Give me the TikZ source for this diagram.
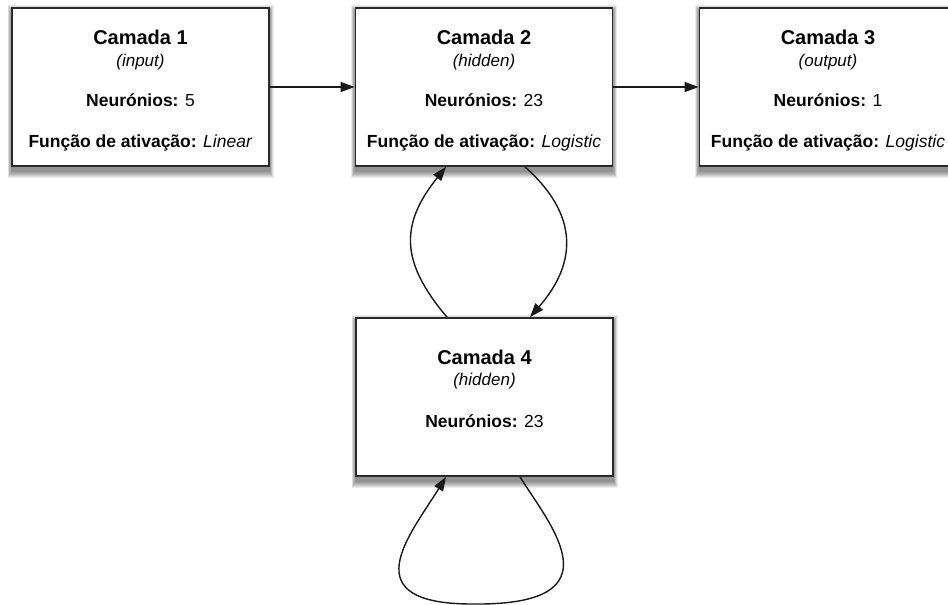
\documentclass[tikz,border=0pt]{standalone}
\usepackage{fontspec}
\setmainfont{Liberation Sans}
\usetikzlibrary{arrows.meta,calc,backgrounds}
\definecolor{ink}{HTML}{050505}
\definecolor{boxline}{HTML}{2A2A2A}
\definecolor{wire}{HTML}{1A1A1A}

\begin{document}
\begin{tikzpicture}[x=1pt,y=-1pt,
  layerbox/.style={draw=boxline, line width=1.8pt, fill=white,
    minimum width=257pt, minimum height=158pt, inner sep=0pt},
  titletext/.style={anchor=base, font=\fontsize{20}{22}\selectfont\bfseries, text=ink},
  subtext/.style={anchor=base, font=\fontsize{17}{19}\selectfont\itshape, text=ink},
  infotext/.style={anchor=base, font=\fontsize{17.5}{20}\selectfont, text=ink},
  link/.style={draw=wire, line width=1.4pt, -{Triangle[length=14pt,width=10pt]}}
]
\clip (0,0) rectangle (948,605);

% layers
\node[layerbox] (c1) at (140.5,87) {};
\node[layerbox] (c2) at (484,87) {};
\node[layerbox] (c3) at (828,87) {};
\node[layerbox] (c4) at (484.5,397) {};

% soft drop shadows under the layer boxes
\begin{scope}[on background layer]
  \fill[white] (0,0) rectangle (948,605);
  \foreach \b in {c1,c2,c3,c4}{
    \foreach \r in {1,...,7}{
      \fill[black, opacity=0.075]
        ($(\b.north west)+(-0.6*\r+0.6, 5-\r)$) rectangle ($(\b.south east)+(0.6*\r-0.6, 4+\r)$);
    }
  }
\end{scope}

% layer 1
\node[titletext] (c1t) at (140.5,44) {Camada 1};
\node[subtext]   (c1s) at (140.5,66.5) {(input)};
\node[infotext]  (c1n) at (140.5,106) {\textbf{Neurónios:} 5};
\node[infotext]  (c1f) at (140.5,147) {\textbf{Função de ativação:} \textit{Linear}};

% layer 2
\node[titletext] (c2t) at (484,44) {Camada 2};
\node[subtext]   (c2s) at (484,66.5) {(hidden)};
\node[infotext]  (c2n) at (484,106) {\textbf{Neurónios:} 23};
\node[infotext]  (c2f) at (484,147) {\textbf{Função de ativação:} \textit{Logistic}};

% layer 3
\node[titletext] (c3t) at (828,44) {Camada 3};
\node[subtext]   (c3s) at (828,66.5) {(output)};
\node[infotext]  (c3n) at (828,106) {\textbf{Neurónios:} 1};
\node[infotext]  (c3f) at (828,147) {\textbf{Função de ativação:} \textit{Logistic}};

% layer 4
\node[titletext] (c4t) at (484.5,364) {Camada 4};
\node[subtext]   (c4s) at (484.5,385.5) {(hidden)};
\node[infotext]  (c4n) at (484.5,427) {\textbf{Neurónios:} 23};

% forward connections
\draw[link] (c1) -- (c2);
\draw[link] (c2) -- (c3);

% recurrent connections between layers 2 and 4
\draw[link] ([xshift=-37.5pt]c4.north) .. controls (400,262) and (400,224) .. ([xshift=-38pt]c2.south);
\draw[link] ([xshift=41pt]c2.south) .. controls (578,214) and (578,262) .. ([xshift=45.5pt]c4.north);

% self loop on layer 4
\draw[link] ([xshift=35.5pt]c4.south) .. controls (550,525) and (620,605) .. (475,604)
  .. controls (350,605) and (410,535) .. ([xshift=-38.5pt]c4.south);
\end{tikzpicture}
\end{document}
